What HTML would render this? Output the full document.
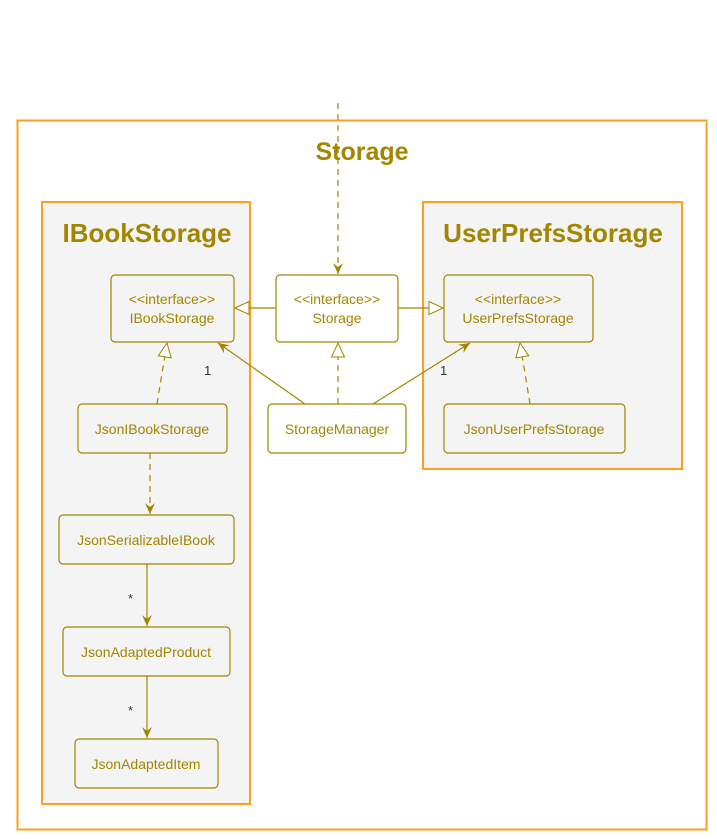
<!DOCTYPE html>
<html><head><meta charset="utf-8"><style>html,body{margin:0;padding:0;background:#fff}svg{display:block}</style></head>
<body>
<svg width="717" height="839" viewBox="0 0 717 839" xmlns="http://www.w3.org/2000/svg" font-family="Liberation Sans, sans-serif">
<defs>
<marker id="ah" viewBox="0 0 12 12" refX="11" refY="6" markerWidth="12" markerHeight="12" markerUnits="userSpaceOnUse" orient="auto">
<path d="M0,1 L11,6 L0,11 L4,6 Z" fill="#A38500"/></marker>
<marker id="tri" viewBox="0 0 16 16" refX="15" refY="8" markerWidth="16" markerHeight="16" markerUnits="userSpaceOnUse" orient="auto">
<path d="M1,1.5 L15,8 L1,14.5 Z" fill="#fff" stroke="#A38500" stroke-width="1"/></marker>
</defs>
<rect x="17.5" y="120.5" width="689" height="709" fill="#fff" stroke="#FF9F1A" stroke-width="2"/>
<text x="362" y="160" text-anchor="middle" font-size="25" font-weight="bold" fill="#A38500">Storage</text>
<rect x="42" y="202" width="208" height="602" fill="#F3F4F3" stroke="#FF9F1A" stroke-width="2"/>
<text x="147" y="242" text-anchor="middle" font-size="26" font-weight="bold" fill="#A38500">IBookStorage</text>
<rect x="423" y="202" width="259" height="267" fill="#F3F4F3" stroke="#FF9F1A" stroke-width="2"/>
<text x="553" y="242" text-anchor="middle" font-size="26" font-weight="bold" fill="#A38500">UserPrefsStorage</text>
<g stroke="#A38500" stroke-width="1.2" fill="none">
<line x1="338" y1="103" x2="338" y2="274" stroke-dasharray="6,5" marker-end="url(#ah)"/>
<line x1="276" y1="308" x2="235" y2="308" marker-end="url(#tri)"/>
<line x1="398" y1="308" x2="443" y2="308" marker-end="url(#tri)"/>
<line x1="338" y1="404" x2="338" y2="343" stroke-dasharray="6,5" marker-end="url(#tri)"/>
<line x1="305" y1="404" x2="218" y2="343" marker-end="url(#ah)"/>
<line x1="373" y1="404" x2="470" y2="343" marker-end="url(#ah)"/>
<line x1="157" y1="404" x2="167" y2="343" stroke-dasharray="6,5" marker-end="url(#tri)"/>
<line x1="530" y1="404" x2="520" y2="343" stroke-dasharray="6,5" marker-end="url(#tri)"/>
<line x1="150" y1="453" x2="150" y2="514" stroke-dasharray="6,5" marker-end="url(#ah)"/>
<line x1="147" y1="564" x2="147" y2="626" marker-end="url(#ah)"/>
<line x1="147" y1="676" x2="147" y2="738" marker-end="url(#ah)"/>
</g>
<g stroke="#A38500" stroke-width="1.2" fill="#fff">
<rect x="111" y="275" width="123" height="67" rx="4" fill="#F3F4F3"/>
<rect x="276" y="275" width="122" height="67" rx="4"/>
<rect x="444" y="275" width="149" height="67" rx="4" fill="#F3F4F3"/>
<rect x="78" y="404" width="149" height="49" rx="4" fill="#F3F4F3"/>
<rect x="268" y="404" width="138" height="49" rx="4"/>
<rect x="444" y="404" width="181" height="49" rx="4" fill="#F3F4F3"/>
<rect x="59" y="515" width="175" height="49" rx="4" fill="#F3F4F3"/>
<rect x="63" y="627" width="167" height="49" rx="4" fill="#F3F4F3"/>
<rect x="75" y="739" width="143" height="49" rx="4" fill="#F3F4F3"/>
</g>
<g fill="#A38500" font-size="14" text-anchor="middle">
<text x="172" y="304">&lt;&lt;interface&gt;&gt;</text><text x="172" y="323">IBookStorage</text>
<text x="337" y="304">&lt;&lt;interface&gt;&gt;</text><text x="337" y="323">Storage</text>
<text x="518" y="304">&lt;&lt;interface&gt;&gt;</text><text x="518" y="323">UserPrefsStorage</text>
<text x="152" y="434">JsonIBookStorage</text>
<text x="337" y="434">StorageManager</text>
<text x="534" y="434">JsonUserPrefsStorage</text>
<text x="146" y="545">JsonSerializableIBook</text>
<text x="146" y="657">JsonAdaptedProduct</text>
<text x="146" y="769">JsonAdaptedItem</text>
</g>
<g fill="#333" font-size="13">
<text x="204" y="375">1</text><text x="440" y="375">1</text>
<text x="128" y="603">*</text><text x="128" y="715">*</text>
</g>
</svg>
</body></html>
